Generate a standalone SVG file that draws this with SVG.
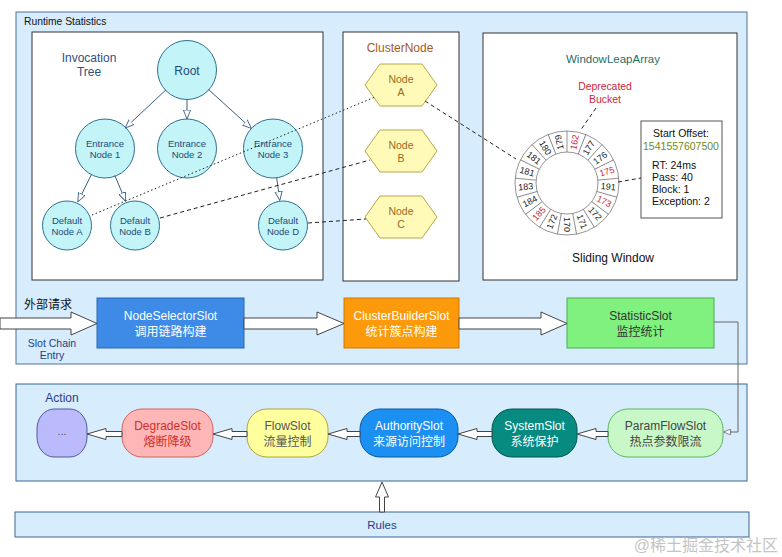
<svg xmlns="http://www.w3.org/2000/svg" width="782" height="557" viewBox="0 0 782 557">
<style>
text{font-family:"Liberation Sans","Noto Sans CJK SC",sans-serif}
.panel{fill:#d7ecfc;stroke:#4d729a;stroke-width:1}
.box{fill:#fff;stroke:#333;stroke-width:1}
.circ{fill:#c2f4f8;stroke:#2f6f90;stroke-width:1}
.ct{font-size:9.5px;fill:#1f4a7a;text-anchor:middle}
.hex{fill:#fffab8;stroke:#b9a84a;stroke-width:1}
.ht{font-size:10.5px;fill:#9a6a1c;text-anchor:middle}
.tl{stroke:#3b5f87;stroke-width:1;fill:none;marker-end:url(#tri)}
.dot{stroke:#222;stroke-width:1;stroke-dasharray:1.5 2.5;fill:none}
.dash{stroke:#222;stroke-width:1;stroke-dasharray:4 3;fill:none}
.harrow{fill:#fff;stroke:#444;stroke-width:1}
.st{font-size:12px;text-anchor:middle}
.rl{font-size:9px;text-anchor:middle;fill:#222}
.red{fill:#c8283c}
.it{font-size:10.5px;fill:#111}
</style>
<defs>
<marker id="tri" viewBox="0 0 10 10" refX="10" refY="5" markerWidth="9" markerHeight="9" orient="auto" markerUnits="userSpaceOnUse">
<path d="M0,1 L10,5 L0,9 z" fill="#fff" stroke="#3b5f87" stroke-width="1"/>
</marker>
<marker id="tri2" viewBox="0 0 10 10" refX="10" refY="5" markerWidth="7" markerHeight="7" orient="auto" markerUnits="userSpaceOnUse">
<path d="M0,1 L10,5 L0,9 z" fill="#fff" stroke="#555" stroke-width="1"/>
</marker>
</defs>

<g id="runtime-statistics">
<rect class="panel" x="16" y="12" width="731" height="352"/>
<text x="24" y="25" style="font-size:10.3px;fill:#111">Runtime Statistics</text>
</g>

<g id="invocation-tree">
<rect class="box" x="32" y="32" width="291" height="248"/>
<text x="89" y="62" style="font-size:12px;fill:#2f5080;text-anchor:middle">Invocation</text>
<text x="89" y="76" style="font-size:12px;fill:#2f5080;text-anchor:middle">Tree</text>
</g>
<g id="root"><circle class="circ" cx="187" cy="70" r="29.5"/><text class="ct" x="187" y="74.5" style="font-size:12px">Root</text></g>
<g id="entrance1"><circle class="circ" cx="105" cy="148.5" r="29.5"/><text class="ct" x="105" y="147">Entrance</text><text class="ct" x="105" y="158">Node 1</text></g>
<g id="entrance2"><circle class="circ" cx="187" cy="148.5" r="29.5"/><text class="ct" x="187" y="147">Entrance</text><text class="ct" x="187" y="158">Node 2</text></g>
<g id="entrance3"><circle class="circ" cx="273" cy="148.5" r="29.5"/><text class="ct" x="273" y="147">Entrance</text><text class="ct" x="273" y="158">Node 3</text></g>
<g id="defaultA"><circle class="circ" cx="67" cy="225.5" r="24.5"/><text class="ct" x="67" y="224">Default</text><text class="ct" x="67" y="235">Node A</text></g>
<g id="defaultB"><circle class="circ" cx="135" cy="225.5" r="24.5"/><text class="ct" x="135" y="224">Default</text><text class="ct" x="135" y="235">Node B</text></g>
<g id="defaultD"><circle class="circ" cx="283" cy="225.5" r="24.5"/><text class="ct" x="283" y="224">Default</text><text class="ct" x="283" y="235">Node D</text></g>

<g id="cluster-node">
<rect class="box" x="343" y="32" width="116" height="249"/>
<text x="400" y="52" style="font-size:12px;fill:#a65a1a;text-anchor:middle">ClusterNode</text>
</g>
<g id="nodeA"><polygon class="hex" points="365,85 380,64 422,64 437,85 422,106 380,106"/><text class="ht" x="401" y="83">Node</text><text class="ht" x="401" y="95.5">A</text></g>
<g id="nodeB"><polygon class="hex" points="365,151 380,130 422,130 437,151 422,172 380,172"/><text class="ht" x="401" y="149">Node</text><text class="ht" x="401" y="161.5">B</text></g>
<g id="nodeC"><polygon class="hex" points="365,217 380,196 422,196 437,217 422,238 380,238"/><text class="ht" x="401" y="215">Node</text><text class="ht" x="401" y="227.5">C</text></g>

<g id="window-leap-array">
<rect class="box" x="483" y="33" width="254" height="247"/>
<text x="613" y="63" style="font-size:11.5px;fill:#1f6f6a;text-anchor:middle">WindowLeapArray</text>
<text x="605" y="90" style="font-size:10.4px;fill:#c8283c;text-anchor:middle">Deprecated</text>
<text x="605" y="102.5" style="font-size:10.4px;fill:#c8283c;text-anchor:middle">Bucket</text>
<text x="613" y="262" style="font-size:12px;fill:#111;text-anchor:middle">Sliding Window</text>
<g transform="translate(567,183)">
<circle r="52" fill="#fff" stroke="#666" stroke-width="0.7"/>
<circle r="31" fill="#fff" stroke="#666" stroke-width="0.7"/>
<g stroke="#666" stroke-width="0.7">
<line x1="0" y1="-31" x2="0" y2="-52"/>
<line x1="0" y1="-31" x2="0" y2="-52" transform="rotate(21.176)"/>
<line x1="0" y1="-31" x2="0" y2="-52" transform="rotate(42.353)"/>
<line x1="0" y1="-31" x2="0" y2="-52" transform="rotate(63.529)"/>
<line x1="0" y1="-31" x2="0" y2="-52" transform="rotate(84.706)"/>
<line x1="0" y1="-31" x2="0" y2="-52" transform="rotate(105.882)"/>
<line x1="0" y1="-31" x2="0" y2="-52" transform="rotate(127.059)"/>
<line x1="0" y1="-31" x2="0" y2="-52" transform="rotate(148.235)"/>
<line x1="0" y1="-31" x2="0" y2="-52" transform="rotate(169.412)"/>
<line x1="0" y1="-31" x2="0" y2="-52" transform="rotate(190.588)"/>
<line x1="0" y1="-31" x2="0" y2="-52" transform="rotate(211.765)"/>
<line x1="0" y1="-31" x2="0" y2="-52" transform="rotate(232.941)"/>
<line x1="0" y1="-31" x2="0" y2="-52" transform="rotate(254.118)"/>
<line x1="0" y1="-31" x2="0" y2="-52" transform="rotate(275.294)"/>
<line x1="0" y1="-31" x2="0" y2="-52" transform="rotate(296.471)"/>
<line x1="0" y1="-31" x2="0" y2="-52" transform="rotate(317.647)"/>
<line x1="0" y1="-31" x2="0" y2="-52" transform="rotate(338.824)"/>
</g>
<text class="rl red" dy="3" transform="rotate(10.59) translate(0,-41.5) rotate(-90)">162</text>
<text class="rl" dy="3" transform="rotate(31.76) translate(0,-41.5) rotate(-90)">177</text>
<text class="rl" dy="3" transform="rotate(52.94) translate(0,-41.5) rotate(-90)">176</text>
<text class="rl red" dy="3" transform="rotate(74.12) translate(0,-41.5) rotate(-90)">175</text>
<text class="rl" dy="3" transform="rotate(95.29) translate(0,-41.5) rotate(-90)">191</text>
<text class="rl red" dy="3" transform="rotate(116.47) translate(0,-41.5) rotate(-90)">173</text>
<text class="rl" dy="3" transform="rotate(137.65) translate(0,-41.5) rotate(-90)">172</text>
<text class="rl" dy="3" transform="rotate(158.82) translate(0,-41.5) rotate(-90)">171</text>
<text class="rl" dy="3" transform="rotate(180) translate(0,-41.5) rotate(-90)">170</text>
<text class="rl" dy="3" transform="rotate(201.18) translate(0,-41.5) rotate(90)">172</text>
<text class="rl red" dy="3" transform="rotate(222.35) translate(0,-41.5) rotate(90)">185</text>
<text class="rl" dy="3" transform="rotate(243.53) translate(0,-41.5) rotate(90)">184</text>
<text class="rl" dy="3" transform="rotate(264.71) translate(0,-41.5) rotate(90)">183</text>
<text class="rl" dy="3" transform="rotate(285.88) translate(0,-41.5) rotate(90)">181</text>
<text class="rl" dy="3" transform="rotate(307.06) translate(0,-41.5) rotate(90)">181</text>
<text class="rl" dy="3" transform="rotate(328.24) translate(0,-41.5) rotate(90)">180</text>
<text class="rl" dy="3" transform="rotate(349.41) translate(0,-41.5) rotate(-90)">179</text>
</g>
</g>

<g id="bucket-info">
<rect x="641" y="121" width="81" height="97" fill="#fff" stroke="#555" stroke-width="1"/>
<text class="it" x="681" y="137" style="text-anchor:middle">Start Offset:</text>
<text x="681" y="149.5" style="font-size:10.5px;fill:#6b8a1e;text-anchor:middle">1541557607500</text>
<text class="it" x="652" y="169">RT: 24ms</text>
<text class="it" x="652" y="181">Pass: 40</text>
<text class="it" x="652" y="193">Block: 1</text>
<text class="it" x="652" y="205">Exception: 2</text>
</g>

<g id="slot-chain-labels">
<text x="24" y="309" style="font-size:12px;fill:#111">外部请求</text>
<text x="52" y="347" style="font-size:10.5px;fill:#1f3f8a;text-anchor:middle">Slot Chain</text>
<text x="52" y="358.5" style="font-size:10.5px;fill:#1f3f8a;text-anchor:middle">Entry</text>
</g>
<g id="node-selector-slot"><rect x="97" y="298" width="147" height="50" fill="#3d8be6" stroke="#2a66b0"/><text class="st" x="170.5" y="320" fill="#fff">NodeSelectorSlot</text><text class="st" x="170.5" y="336" fill="#fff">调用链路构建</text></g>
<g id="cluster-builder-slot"><rect x="344" y="298" width="115" height="50" fill="#fd9a0c" stroke="#d07800"/><text class="st" x="401.5" y="320" fill="#fff">ClusterBuilderSlot</text><text class="st" x="401.5" y="336" fill="#fff">统计簇点构建</text></g>
<g id="statistic-slot"><rect x="567" y="298" width="147" height="50" fill="#80f07f" stroke="#4cae4c"/><text class="st" x="640.5" y="320" fill="#333">StatisticSlot</text><text class="st" x="640.5" y="336" fill="#333">监控统计</text></g>

<g id="action-panel">
<rect x="16" y="384" width="731" height="97" fill="#d7ecfc" stroke="#3c6793"/>
<text x="62" y="402" style="font-size:12px;fill:#1f3f8a;text-anchor:middle">Action</text>
</g>
<g id="more"><rect x="37" y="409" width="50" height="48" rx="17" ry="20" fill="#babafc" stroke="#525a9a"/><text class="st" x="62" y="435" fill="#555" style="font-size:11px">...</text></g>
<g id="degrade-slot"><rect x="122" y="409" width="91" height="48" rx="20" ry="20" fill="#ffb6b6" stroke="#cf6464"/><text class="st" x="167.5" y="430" fill="#d0302a">DegradeSlot</text><text class="st" x="167.5" y="445.5" fill="#d0302a">熔断降级</text></g>
<g id="flow-slot"><rect x="247" y="409" width="81" height="48" rx="20" ry="20" fill="#ffff9e" stroke="#b3a436"/><text class="st" x="287.5" y="430" fill="#555">FlowSlot</text><text class="st" x="287.5" y="445.5" fill="#555">流量控制</text></g>
<g id="authority-slot"><rect x="360" y="409" width="98" height="48" rx="20" ry="20" fill="#1b8ff2" stroke="#0b5aa8"/><text class="st" x="409" y="430" fill="#fff">AuthoritySlot</text><text class="st" x="409" y="445.5" fill="#fff">来源访问控制</text></g>
<g id="system-slot"><rect x="492" y="409" width="85" height="48" rx="20" ry="20" fill="#078a80" stroke="#055550"/><text class="st" x="534.5" y="430" fill="#fff">SystemSlot</text><text class="st" x="534.5" y="445.5" fill="#fff">系统保护</text></g>
<g id="param-flow-slot"><rect x="608" y="409" width="115" height="48" rx="20" ry="20" fill="#c9f8c8" stroke="#5cb85c"/><text class="st" x="665.5" y="430" fill="#444">ParamFlowSlot</text><text class="st" x="665.5" y="445.5" fill="#444">热点参数限流</text></g>

<g id="rules"><rect x="15" y="512" width="734" height="25" fill="#d7ecfc" stroke="#3c6793"/><text x="382" y="529" style="font-size:11.5px;fill:#1f3f8a;text-anchor:middle">Rules</text></g>

<g id="connectors">
<line class="tl" x1="165.9" y1="89.9" x2="125.1" y2="128.1"/>
<line class="tl" x1="187" y1="99.5" x2="187" y2="119"/>
<line class="tl" x1="208.5" y1="89.5" x2="251.5" y2="128.5"/>
<line class="tl" x1="91.4" y1="174.6" x2="77.8" y2="202"/>
<line class="tl" x1="114.8" y1="175.4" x2="125.7" y2="201.3"/>
<line class="tl" x1="276.7" y1="177.8" x2="279.8" y2="200.5"/>
<line class="dot" x1="92" y1="215" x2="375" y2="97"/>
<line class="dash" x1="160" y1="218" x2="370" y2="160"/>
<line class="dash" x1="308" y1="223" x2="366" y2="219"/>
<line class="dash" x1="425" y1="101" x2="516" y2="159"/>
<line class="dash" x1="596" y1="108" x2="580" y2="131"/>
<line class="dash" x1="618" y1="182" x2="641" y2="178"/>
<polygon class="harrow" points="0,318 71,318 71,312 97,323.5 71,335 71,329 0,329"/>
<polygon class="harrow" points="244,318 317,318 317,312 344,323.5 317,335 317,329 244,329"/>
<polygon class="harrow" points="459,318 541,318 541,312 567,323.5 541,335 541,329 459,329"/>
<polyline points="714,322 738,322 738,432 723.5,432" fill="none" stroke="#666" stroke-width="1" marker-end="url(#tri2)"/>
<polygon class="harrow" points="122,431.5 106,431.5 106,428.5 87,434 106,439.5 106,436.5 122,436.5"/>
<polygon class="harrow" points="247,431.5 232,431.5 232,428.5 213,434 232,439.5 232,436.5 247,436.5"/>
<polygon class="harrow" points="360,431.5 347,431.5 347,428.5 328,434 347,439.5 347,436.5 360,436.5"/>
<polygon class="harrow" points="492,431.5 477,431.5 477,428.5 458,434 477,439.5 477,436.5 492,436.5"/>
<polygon class="harrow" points="608,431.5 596,431.5 596,428.5 577,434 596,439.5 596,436.5 608,436.5"/>
<polygon class="harrow" points="379.5,512 379.5,497 375.5,497 382,482 388.5,497 384.5,497 384.5,512"/>
</g>

<text x="778" y="551" style="font-size:16px;fill:#c4c4c4;text-anchor:end">@稀土掘金技术社区</text>
</svg>
